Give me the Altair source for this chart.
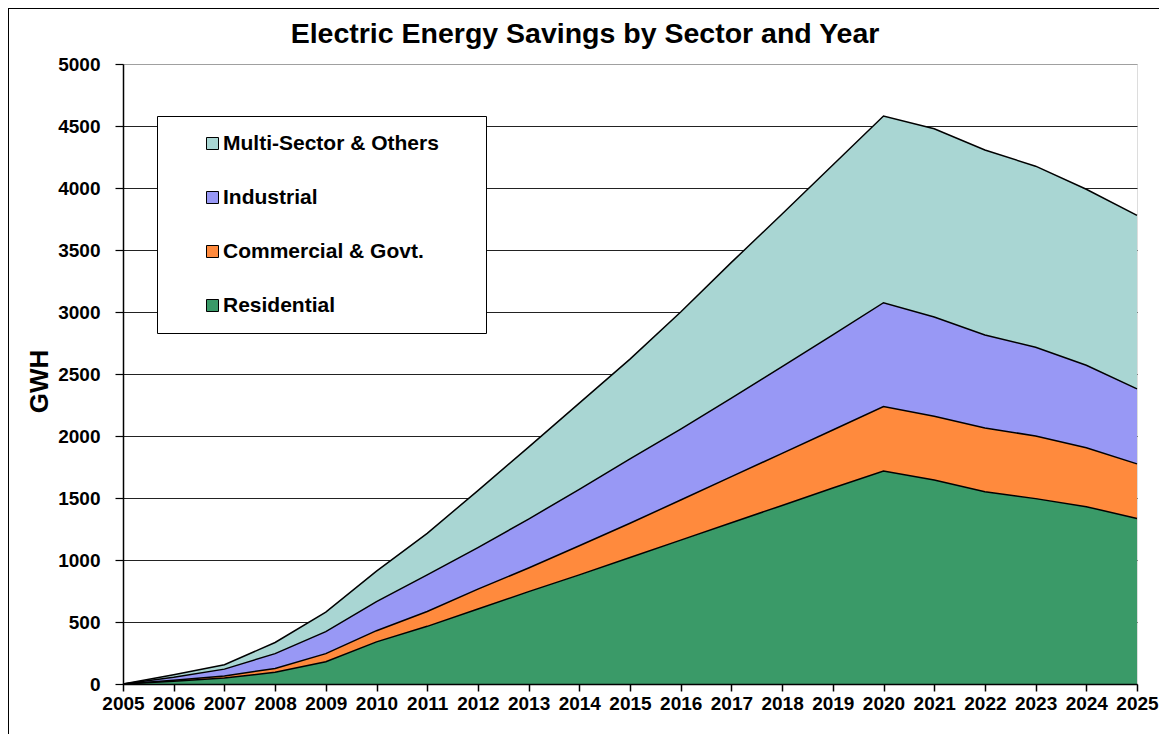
import altair as alt
import pandas as pd

# ---- data (GWh per sector, not cumulative) ----
years = list(range(2005, 2026))
residential = [0, 22, 48, 95, 180, 340, 465, 605, 745, 880, 1020, 1160, 1300, 1440, 1580, 1718, 1645, 1550, 1495, 1430, 1335]
commercial = [0, 8, 17, 30, 65, 90, 120, 160, 190, 235, 276, 324, 372, 420, 468, 519, 515, 515, 505, 475, 440]
industrial = [0, 25, 55, 120, 177, 234, 295, 335, 395, 455, 519, 571, 633, 700, 767, 838, 800, 750, 715, 665, 605]
multi_sector = [0, 20, 35, 90, 158, 246, 335, 460, 580, 695, 805, 945, 1095, 1230, 1370, 1505, 1518, 1491, 1461, 1420, 1399]

sectors = ["Multi-Sector & Others", "Industrial", "Commercial & Govt.", "Residential"]
sector_colors = ["#a9d6d3", "#9898f5", "#ff8a3d", "#3a9a68"]
stack_rank = {"Residential": 0, "Commercial & Govt.": 1, "Industrial": 2, "Multi-Sector & Others": 3}
series = {
    "Residential": residential,
    "Commercial & Govt.": commercial,
    "Industrial": industrial,
    "Multi-Sector & Others": multi_sector,
}
y_ticks = list(range(0, 5001, 500))

rows = []
for name, vals in series.items():
    for yr, v in zip(years, vals):
        rows.append({"year": yr, "sector": name, "gwh": v, "rank": stack_rank[name]})
df = pd.DataFrame(rows)

FONT = "Liberation Sans"

base = alt.Chart(df).transform_stack(
    stack="gwh",
    groupby=["year"],
    as_=["y0", "y1"],
    sort=[alt.SortField("rank", order="ascending")],
)

x_enc = alt.X(
    "year:Q",
    scale=alt.Scale(domain=[2005, 2025], nice=False, zero=False),
    axis=alt.Axis(
        values=years, format="d", title=None, grid=False,
        labelFont=FONT, labelFontSize=19, labelFontWeight="bold", labelColor="black",
        tickSize=7, tickColor="black", tickWidth=1.5,
        domainColor="black", domainWidth=1.5, labelPadding=3, zindex=1,
        labelOverlap=False, labelFlush=False,
    ),
)

areas = base.mark_area(interpolate="linear").encode(
    x=x_enc,
    y=alt.Y(
        "y1:Q",
        scale=alt.Scale(domain=[0, 5000], nice=False),
        axis=alt.Axis(
            values=y_ticks, format="d", title="GWH",
            labelFont=FONT, labelFontSize=19, labelFontWeight="bold", labelColor="black",
            tickSize=8, tickColor="black", tickWidth=1.2, labelPadding=15,
            domainColor="black", domainWidth=1.5,
            grid=True,
            gridColor={"condition": {"test": "datum.value == 5000", "value": "#a0a0a0"}, "value": "#222222"},
            gridWidth=1.2,
            titleFont=FONT, titleFontSize=26, titleFontWeight="bold", titleColor="black",
            titlePadding=5, titleY=317,
        ),
    ),
    y2="y0:Q",
    color=alt.Color(
        "sector:N",
        scale=alt.Scale(domain=sectors, range=sector_colors),
        legend=alt.Legend(
            title="\u00a0", titleOrient="right", titlePadding=30, titleFontSize=21,
            orient="none", legendX=34, legendY=52,
            padding=17, strokeColor="black", fillColor="white",
            symbolType="square", symbolSize=144, symbolStrokeColor="black",
            symbolStrokeWidth=1, symbolOffset=28, labelOffset=0,
            labelFont=FONT, labelFontSize=21, labelFontWeight="bold", labelColor="black",
            rowPadding=32, labelLimit=400,
        ),
    ),
)

lines = base.mark_line(color="black", strokeWidth=1.5, interpolate="linear").encode(
    x=alt.X("year:Q"),
    y=alt.Y("y1:Q"),
    detail="sector:N",
)

frame_left = alt.Chart(df).mark_rule(color="black", strokeWidth=2, clip=False).encode(
    x=alt.value(-115.5), y=alt.value(-56.5), y2=alt.value(680)
)
frame_top = alt.Chart(df).mark_rule(color="black", strokeWidth=2, clip=False).encode(
    x=alt.value(-115.5), x2=alt.value(1040), y=alt.value(-56.5)
)

chart = alt.layer(areas, lines, frame_left, frame_top).properties(
    width=1014,
    height=620,
    title=alt.TitleParams(
        "Electric Energy Savings by Sector and Year",
        font=FONT, fontSize=28.5, fontWeight="bold", color="black",
        anchor="middle", dx=-45, offset=0, dy=42,
    ),
    autosize=alt.AutoSizeParams(type="none"),
    padding={"left": 115, "top": 56, "right": 22, "bottom": 50},
).configure_view(
    stroke="#a0a0a0", strokeWidth=2
).configure_legend(
    strokeWidth=1.5
).configure(background="white")

chart.save("out.html", embed_options={"renderer": "svg", "actions": False})
